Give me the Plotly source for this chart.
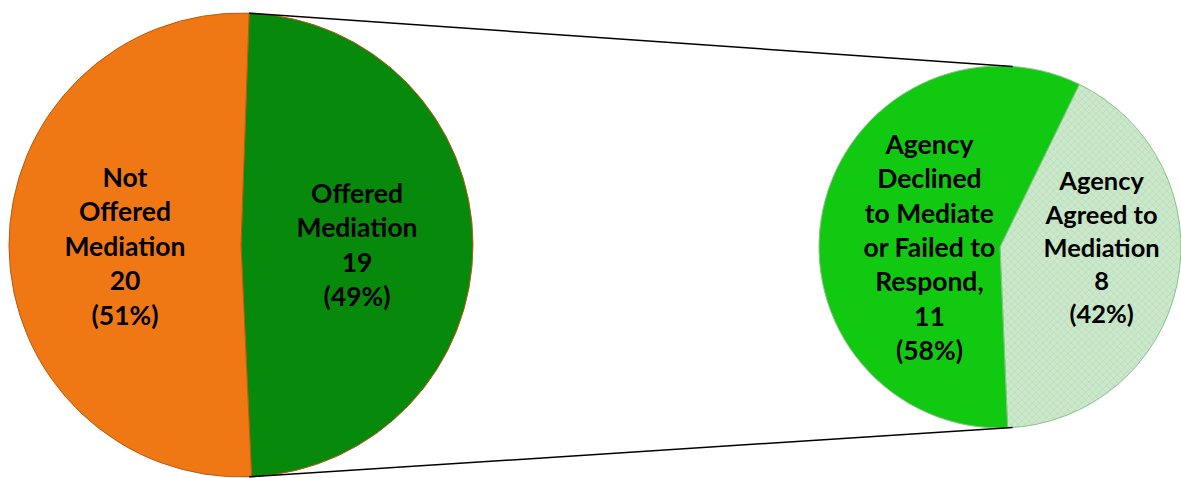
import math
import plotly.graph_objects as go

# ---- data ----
main_labels = ["Offered<br>Mediation", "Not<br>Offered<br>Mediation"]
main_values = [19, 20]
main_colors = ["#07890B", "#F07814"]

sub_labels = ["Agency<br>Agreed to<br>Mediation", "Agency<br>Declined<br>to Mediate<br>or Failed to<br>Respond,"]
sub_values = [8, 11]
sub_colors = ["#CBE8CB", "#12C912"]

W, H = 1181, 478

# pie domains (pixel boxes -> paper)
L_box = (8, 474, 13, 477)     # x0, x1, y0(top), y1(bottom)
R_box = (819, 1181, 62, 432)

def dom(box):
    x0, x1, y0, y1 = box
    return dict(x=[x0 / W, x1 / W], y=[1 - y1 / H, 1 - y0 / H])

font = dict(family="Lato, 'Open Sans', sans-serif", size=26.5, color="black", weight="bold")

fig = go.Figure()
fig.add_trace(go.Pie(
    labels=main_labels, values=main_values, sort=False, direction="clockwise",
    rotation=2, domain=dom(L_box),
    marker=dict(colors=main_colors, line=dict(color="#B85A10", width=1)),
    texttemplate="%{label}<br>%{value}<br>(%{percent:.0%})",
    textposition="inside", insidetextorientation="horizontal",
    textfont=font, hoverinfo="label+value+percent", showlegend=False,
))
fig.add_trace(go.Pie(
    labels=sub_labels, values=sub_values, sort=False, direction="clockwise",
    rotation=26, domain=dom(R_box),
    marker=dict(colors=sub_colors, line=dict(color="#8CC08C", width=1),
                pattern=dict(shape=["x", ""], size=5, solidity=0.25,
                             fgcolor="#9ECB9E", fillmode="overlay")),
    texttemplate="%{label}<br>%{value}<br>(%{percent:.0%})",
    textposition="inside", insidetextorientation="horizontal",
    textfont=font, hoverinfo="label+value+percent", showlegend=False,
))

# connector lines computed from pie geometry
def geom(box):
    x0, x1, y0, y1 = box
    r = min(x1 - x0, y1 - y0) / 2
    return (x0 + x1) / 2, (y0 + y1) / 2, r

def pt(box, ang):  # angle clockwise from 12 o'clock
    cx, cy, r = geom(box)
    a = math.radians(ang)
    return cx + r * math.sin(a), cy - r * math.cos(a)

for a1, a2 in [(2, 4), (178, 176)]:
    p1 = pt(L_box, a1)
    p2 = pt(R_box, a2)
    fig.add_shape(type="line", xref="paper", yref="paper",
                  x0=p1[0] / W, y0=1 - p1[1] / H, x1=p2[0] / W, y1=1 - p2[1] / H,
                  line=dict(color="black", width=1.5))

fig.update_layout(width=W, height=H, margin=dict(l=0, r=0, t=0, b=0),
                  paper_bgcolor="white", plot_bgcolor="white")
fig.write_html("out.html")
